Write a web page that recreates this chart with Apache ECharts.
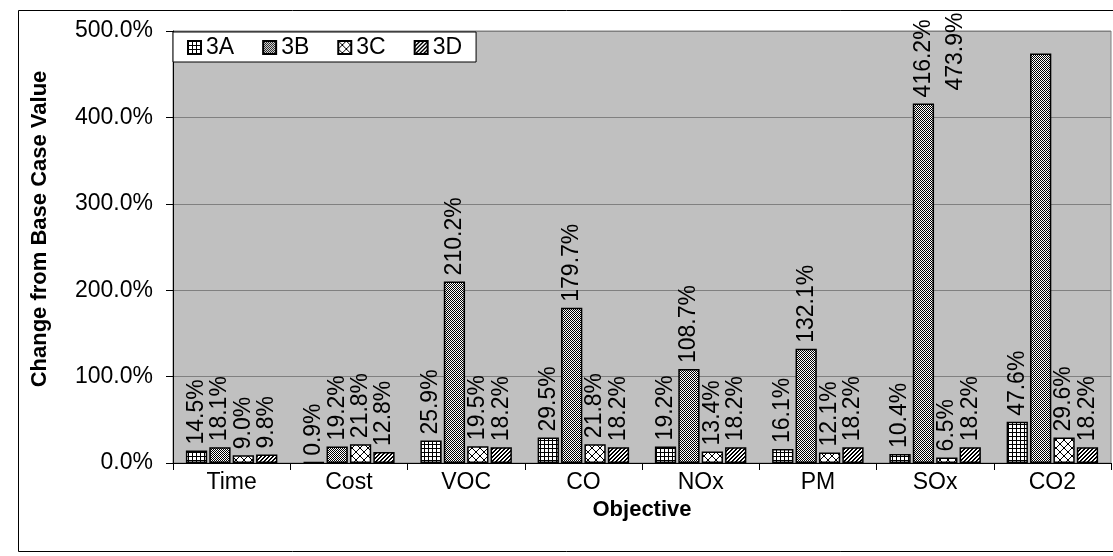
<!DOCTYPE html>
<html>
<head>
<meta charset="utf-8">
<style>
  html, body { margin: 0; padding: 0; background: #fff; }
  #chart { width: 1113px; height: 556px; }
</style>
<script src="https://cdn.jsdelivr.net/npm/echarts@6/dist/echarts.min.js"></script>
</head>
<body>
<div id="chart"></div>
<script>
// Objectives on the category axis
const categories = ['Time', 'Cost', 'VOC', 'CO', 'NOx', 'PM', 'SOx', 'CO2'];

// Percent change from base case, one array per scenario
const s3A = [14.5, 0.9, 25.9, 29.5, 19.2, 16.1, 10.4, 47.6];
const s3B = [18.1, 19.2, 210.2, 179.7, 108.7, 132.1, 416.2, 473.9];
const s3C = [9.0, 21.8, 19.5, 21.8, 13.4, 12.1, 6.5, 29.6];
const s3D = [9.8, 12.8, 18.2, 18.2, 18.2, 18.2, 18.2, 18.2];

const seriesNames = ['3A', '3B', '3C', '3D'];
const yTicks = [0, 100, 200, 300, 400, 500];

const FONT = '"Liberation Sans", Arial, sans-serif';

// Small tiles used as repeating monochrome fill patterns
function tile(w, h, isBlack) {
  const c = document.createElement('canvas');
  c.width = w; c.height = h;
  const ctx = c.getContext('2d');
  const img = ctx.createImageData(w, h);
  for (let y = 0; y < h; y++) {
    for (let x = 0; x < w; x++) {
      const v = isBlack(x, y) ? 0 : 255;
      const i = (y * w + x) * 4;
      img.data[i] = v; img.data[i + 1] = v; img.data[i + 2] = v; img.data[i + 3] = 255;
    }
  }
  ctx.putImageData(img, 0, 0);
  return c;
}

const patterns = [
  // grid
  tile(4, 4, (x, y) => x === 0 || y === 0),
  // fine checkerboard
  tile(2, 2, (x, y) => (x + y) % 2 === 0),
  // diamond lattice
  tile(8, 8, (x, y) => (x === y) || (x === 7 - y)),
  // diagonal hatch
  tile(4, 4, (x, y) => (x + y) % 4 < 2)
];

const dataSets = [s3A, s3B, s3C, s3D];

const chart = echarts.init(document.getElementById('chart'), null, { renderer: 'canvas' });

const series = dataSets.map((arr, si) => ({
  name: seriesNames[si],
  type: 'bar',
  barGap: '10%',
  barCategoryGap: '22%',
  itemStyle: {
    color: { image: patterns[si], repeat: 'repeat' },
    borderColor: '#000',
    borderWidth: 1.5
  },
  label: {
    show: true,
    position: 'top',
    rotate: 90,
    align: 'left',
    verticalAlign: 'middle',
    distance: 6,
    color: '#000',
    fontFamily: FONT,
    fontSize: 23,
    formatter: p => p.value.toFixed(1) + '%'
  },
  data: arr.map((v, i) => {
    // the tallest bar has its label moved to the left of its group
    if (si === 1 && i === 7) {
      return { value: v, label: { position: [-74, 37] } };
    }
    return v;
  })
}));

chart.setOption({
  animation: false,
  backgroundColor: '#fff',
  textStyle: { fontFamily: FONT, color: '#000' },
  graphic: [{
    type: 'rect',
    shape: { x: 18.5, y: 10.5, width: 1110, height: 541 },
    style: { fill: 'none', stroke: '#000', lineWidth: 1 },
    z: -1
  }],
  legend: {
    left: 173,
    top: 32,
    orient: 'horizontal',
    backgroundColor: '#fff',
    borderColor: '#000',
    borderWidth: 1,
    padding: [4, 14, 3, 14],
    icon: 'rect',
    itemWidth: 13,
    itemHeight: 13,
    itemGap: 28,
    itemTextGap: 3,
    textStyle: { fontSize: 23, color: '#000', fontFamily: FONT },
    data: seriesNames
  },
  grid: {
    left: 173,
    right: 2,
    top: 31,
    bottom: 93,
    show: true,
    backgroundColor: '#c0c0c0',
    borderColor: '#808080',
    borderWidth: 1
  },
  xAxis: {
    type: 'category',
    data: categories,
    name: 'Objective',
    nameLocation: 'middle',
    nameGap: 36,
    nameTextStyle: { fontSize: 22, fontWeight: 'bold', color: '#000', fontFamily: FONT },
    axisLine: { lineStyle: { color: '#000', width: 1 } },
    axisTick: { show: true, interval: 0, length: 7, lineStyle: { color: '#000' } },
    axisLabel: { fontSize: 23, color: '#000', margin: 8, fontFamily: FONT, interval: 0 },
    splitLine: { show: false }
  },
  yAxis: {
    type: 'value',
    min: yTicks[0],
    max: yTicks[yTicks.length - 1],
    interval: yTicks[1] - yTicks[0],
    name: 'Change from Base Case Value',
    nameLocation: 'middle',
    nameGap: 122,
    nameTextStyle: {
      fontSize: 22, fontWeight: 'bold', color: '#000', fontFamily: FONT,
      padding: [0, 0, 0, 36]
    },
    axisLine: { show: true, lineStyle: { color: '#000', width: 1 } },
    axisTick: { show: true, length: 7, lineStyle: { color: '#000' } },
    axisLabel: {
      fontSize: 23, color: '#000', margin: 20, fontFamily: FONT,
      formatter: v => v.toFixed(1) + '%'
    },
    splitLine: { show: true, lineStyle: { color: '#808080', width: 1 } }
  },
  series: series
});
</script>
</body>
</html>
